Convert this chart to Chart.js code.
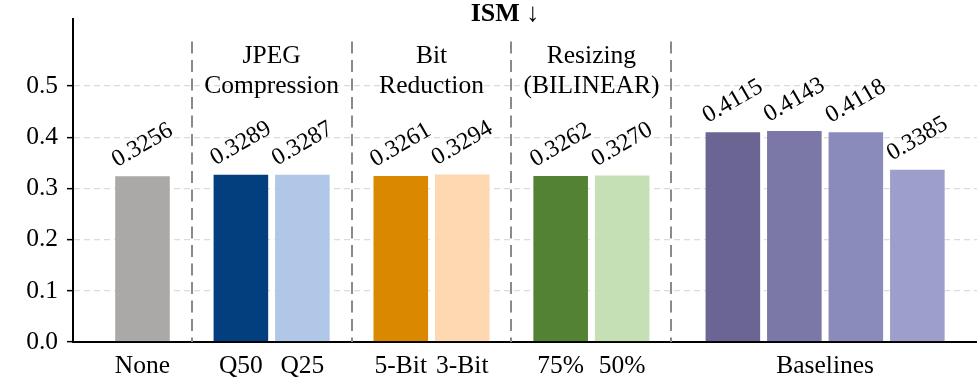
<!DOCTYPE html>
<html><head><meta charset="utf-8">
<script src="https://cdn.jsdelivr.net/npm/chart.js@4/dist/chart.umd.min.js"></script>
<style>html,body{margin:0;padding:0;background:#fff;}</style>
</head><body>
<canvas id="c" width="977" height="382"></canvas>
<script>
// ---- data ----
const categories = ['None','Q50','Q25','5-Bit','3-Bit','75%','50%','Baseline 1','Baseline 2','Baseline 3','Baseline 4'];
const ismValues = [0.3256,0.3289,0.3287,0.3261,0.3294,0.3262,0.3270,0.4115,0.4143,0.4118,0.3385];
const groupSizes = [1,2,2,2,4];
const groupHeaders = [[], ['JPEG','Compression'], ['Bit','Reduction'], ['Resizing','(BILINEAR)'], []];
const groupTickLabels = [null, null, null, null, 'Baselines'];
const yTickValues = [0, 0.1, 0.2, 0.3, 0.4, 0.5];
const barColors = ['#aaa9a7','#033f7f','#b0c7e7','#d98800','#fdd8b0','#548235','#c5e0b4','#6b6593','#7b78a7','#8b8bbb','#9e9ecb'];

// ---- layout constants ----
const groupGaps = [0, 0.6, 0.6, 0.6, 0.8];
const DIVIDER_AFTER = 0.8;
const X_MIN = -1.13, X_MAX = 13.57, Y_MAX = 0.631;
const DIVIDER_TOP = 0.587;
const HEADER_Y = [0.545, 0.486];

const xPos = [];
const groupRanges = [];
let p = 0;
groupSizes.forEach((n, g) => {
  p += groupGaps[g];
  const start = xPos.length;
  for (let i = 0; i < n; i++) { xPos.push(p); p += 1; }
  groupRanges.push([start, xPos.length - 1]);
});
const dividers = groupRanges.slice(0, -1).map(r => xPos[r[1]] + DIVIDER_AFTER);
const groupCenters = groupRanges.map(r => (xPos[r[0]] + xPos[r[1]]) / 2);
const xTickPos = [], xTickLabels = [];
groupRanges.forEach((r, g) => {
  if (groupTickLabels[g]) { xTickPos.push(groupCenters[g]); xTickLabels.push(groupTickLabels[g]); }
  else for (let i = r[0]; i <= r[1]; i++) { xTickPos.push(xPos[i]); xTickLabels.push(categories[i]); }
});

const SERIF = '"Liberation Serif", "Times New Roman", serif';

const overlay = {
  id: 'overlay',
  afterDraw(chart) {
    const {ctx, scales: {x, y}} = chart;
    ctx.save();
    ctx.strokeStyle = '#8a8a8a'; ctx.lineWidth = 2; ctx.setLineDash([12, 6.5]);
    dividers.forEach(d => {
      const px = Math.round(x.getPixelForValue(d));
      ctx.beginPath();
      ctx.moveTo(px, y.getPixelForValue(DIVIDER_TOP));
      ctx.lineTo(px, y.getPixelForValue(0));
      ctx.stroke();
    });
    ctx.setLineDash([]);
    ctx.fillStyle = '#000';
    ctx.font = '25.5px ' + SERIF;
    ctx.textAlign = 'center'; ctx.textBaseline = 'alphabetic';
    groupHeaders.forEach((lines, g) => {
      lines.forEach((t, k) => ctx.fillText(t, x.getPixelForValue(groupCenters[g]), y.getPixelForValue(HEADER_Y[k])));
    });
    ctx.font = '24px ' + SERIF;
    ctx.textBaseline = 'middle';
    chart.getDatasetMeta(0).data.forEach((bar, i) => {
      ctx.save();
      ctx.translate(bar.x, bar.y - 30);
      ctx.rotate(-Math.PI / 6);
      ctx.fillText(ismValues[i].toFixed(4), 0, 0);
      ctx.restore();
    });
    ctx.font = 'bold 26px ' + SERIF;
    ctx.textBaseline = 'alphabetic';
    ctx.fillText('ISM \u2193', 505, 21);
    ctx.restore();
  }
};

new Chart(document.getElementById('c'), {
  type: 'bar',
  data: {
    datasets: [{
      label: 'ISM',
      data: ismValues.map((v, i) => ({x: xPos[i], y: v})),
      backgroundColor: barColors,
      borderColor: 'rgba(255,255,255,0.5)',
      borderWidth: 1,
      barPercentage: 0.92,
      categoryPercentage: 1
    }]
  },
  options: {
    responsive: false,
    animation: false,
    layout: {padding: {top: 19, left: 0, right: 0, bottom: 0}},
    plugins: {legend: {display: false}, tooltip: {enabled: false}, title: {display: false}},
    scales: {
      x: {
        type: 'linear', min: X_MIN, max: X_MAX, offset: false,
        grid: {display: false, drawTicks: false, offset: false},
        border: {display: true, color: '#000', width: 2},
        ticks: {autoSkip: false, maxRotation: 0, padding: 9, color: '#000',
          font: {family: SERIF, size: 25.5},
          callback: (v, i) => xTickLabels[i]},
        afterBuildTicks: s => { s.ticks = xTickPos.map(v => ({value: v})); },
        afterFit: s => { s.height = 40; s.paddingLeft = 0; s.paddingRight = 0; }
      },
      y: {
        min: 0, max: Y_MAX, z: 1,
        grid: {
          color: c => (c.tick && c.tick.value === 0) ? 'rgba(0,0,0,0)' : 'rgba(190,190,190,0.55)',
          lineWidth: 1.3, tickColor: '#000', tickLength: 6, tickWidth: 1.5
        },
        border: {display: true, color: '#000', width: 2, dash: [6, 4]},
        ticks: {padding: 9, color: '#000', font: {family: SERIF, size: 25.5},
          callback: v => v.toFixed(1)},
        afterBuildTicks: s => { s.ticks = yTickValues.map(v => ({value: v})); },
        afterFit: s => { s.width = 73; s.paddingTop = 0; s.paddingBottom = 0; }
      }
    }
  },
  plugins: [overlay]
});
</script>
</body></html>
